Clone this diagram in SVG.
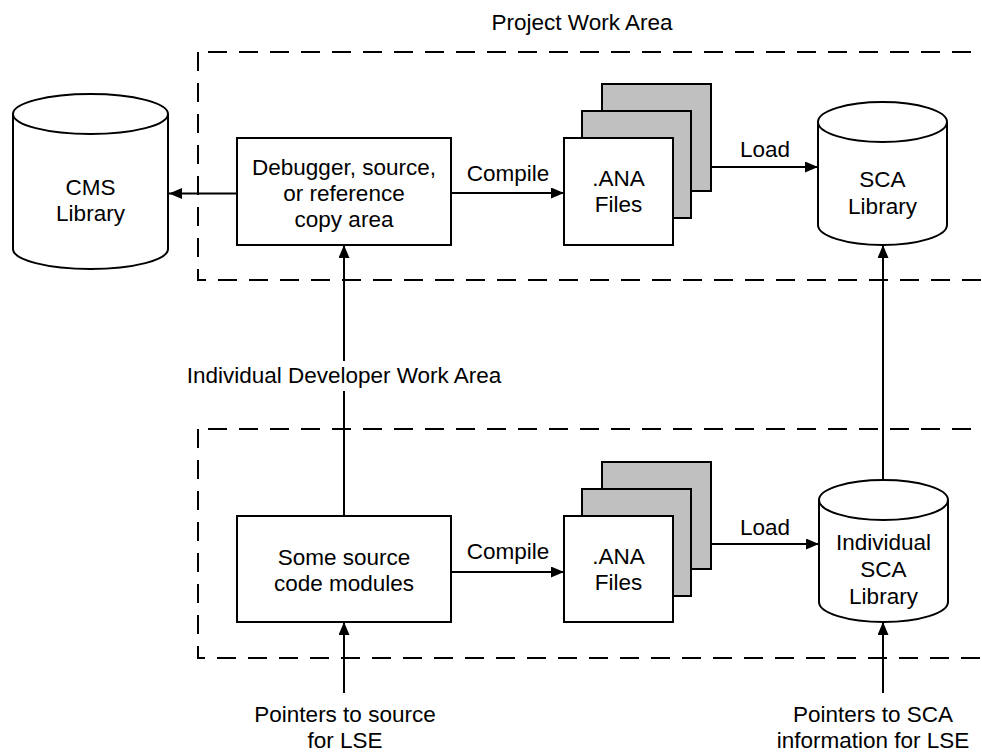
<svg xmlns="http://www.w3.org/2000/svg" width="982" height="753" viewBox="0 0 982 753">
  <style>
    text { font-family: "Liberation Sans", Arial, sans-serif; font-size: 22.5px; fill: #000; text-anchor: middle; }
    .box { fill: #fff; stroke: #000; stroke-width: 2; }
    .sheet { fill: #c0c0c0; stroke: #000; stroke-width: 2; }
    .area { fill: none; stroke: #000; stroke-width: 2; stroke-dasharray: 19 12; }
    .area-top { stroke-dashoffset: 21; }
    .wire { fill: none; stroke: #000; stroke-width: 2; }
    .arrow { marker-end: url(#head); }
  </style>
  <defs>
    <marker id="head" markerUnits="userSpaceOnUse" markerWidth="14" markerHeight="12" refX="13" refY="5.5" orient="auto">
      <path d="M0,0 L13,5.5 L0,11 Z" fill="#000"/>
    </marker>
  </defs>
  <rect width="982" height="753" fill="#fff"/>

  <!-- work area boundaries (open to the right) -->
  <g id="project-area">
    <path class="area area-top" d="M198,52 H982"/>
    <path class="area" d="M198,52 V280 H982"/>
    <text x="582" y="30">Project Work Area</text>
  </g>
  <g id="developer-area">
    <path class="area area-top" d="M198,429 H982"/>
    <path class="area" d="M198,429 V658 H982"/>
  </g>

  <!-- connectors -->
  <g id="connectors">
    <line class="wire arrow" x1="237" y1="193.5" x2="169" y2="193.5"/>
    <line class="wire arrow" x1="451" y1="193" x2="564" y2="193"/>
    <line class="wire arrow" x1="711" y1="167" x2="818" y2="167"/>
    <line class="wire arrow" x1="344" y1="516" x2="344" y2="245"/>
    <line class="wire arrow" x1="883" y1="480" x2="883" y2="245"/>
    <line class="wire arrow" x1="451" y1="572" x2="564" y2="572"/>
    <line class="wire arrow" x1="711" y1="544" x2="819" y2="544"/>
    <line class="wire arrow" x1="344" y1="693" x2="344" y2="622"/>
    <line class="wire arrow" x1="883" y1="693" x2="883" y2="622"/>
    <text x="508" y="181">Compile</text>
    <text x="765" y="157">Load</text>
    <text x="508" y="559">Compile</text>
    <text x="765" y="535">Load</text>
  </g>

  <!-- label of the developer area, over the vertical connector -->
  <g id="developer-area-label">
    <rect x="183" y="361" width="322" height="30" fill="#fff"/>
    <text x="344" y="383">Individual Developer Work Area</text>
  </g>

  <!-- nodes -->
  <g id="cms-library">
    <path class="box" d="M13,114 V249 A77.5,20 0 0 0 168,249 V114"/>
    <ellipse class="box" cx="90.5" cy="114" rx="77.5" ry="20"/>
    <text x="90.5" y="195">CMS</text>
    <text x="90.5" y="221">Library</text>
  </g>

  <g id="copy-area">
    <rect class="box" x="237" y="138" width="214" height="107"/>
    <text x="344" y="175">Debugger, source,</text>
    <text x="344" y="201">or reference</text>
    <text x="344" y="227">copy area</text>
  </g>

  <g id="project-ana-files">
    <rect class="sheet" x="602" y="84" width="109" height="107"/>
    <rect class="sheet" x="582" y="111" width="109" height="107"/>
    <rect class="box" x="564" y="138" width="109" height="107"/>
    <text x="618.5" y="186">.ANA</text>
    <text x="618.5" y="212">Files</text>
  </g>

  <g id="sca-library">
    <path class="box" d="M818,122 V225 A64.5,20 0 0 0 947,225 V122"/>
    <ellipse class="box" cx="882.5" cy="122" rx="64.5" ry="20"/>
    <text x="882.5" y="187">SCA</text>
    <text x="882.5" y="214">Library</text>
  </g>

  <g id="source-modules">
    <rect class="box" x="237" y="516" width="214" height="106"/>
    <text x="344" y="565">Some source</text>
    <text x="344" y="591">code modules</text>
  </g>

  <g id="developer-ana-files">
    <rect class="sheet" x="602" y="462" width="109" height="107"/>
    <rect class="sheet" x="582" y="489" width="109" height="107"/>
    <rect class="box" x="564" y="516" width="109" height="106"/>
    <text x="618.5" y="564">.ANA</text>
    <text x="618.5" y="590">Files</text>
  </g>

  <g id="individual-sca-library">
    <path class="box" d="M819,500 V602 A64.5,20 0 0 0 948,602 V500"/>
    <ellipse class="box" cx="883.5" cy="500" rx="64.5" ry="20"/>
    <text x="883.5" y="550">Individual</text>
    <text x="883.5" y="577">SCA</text>
    <text x="883.5" y="604">Library</text>
  </g>

  <g id="source-pointers">
    <text x="345" y="722">Pointers to source</text>
    <text x="345" y="748">for LSE</text>
  </g>

  <g id="sca-pointers">
    <text x="873" y="722">Pointers to SCA</text>
    <text x="873" y="748">information for LSE</text>
  </g>
</svg>
